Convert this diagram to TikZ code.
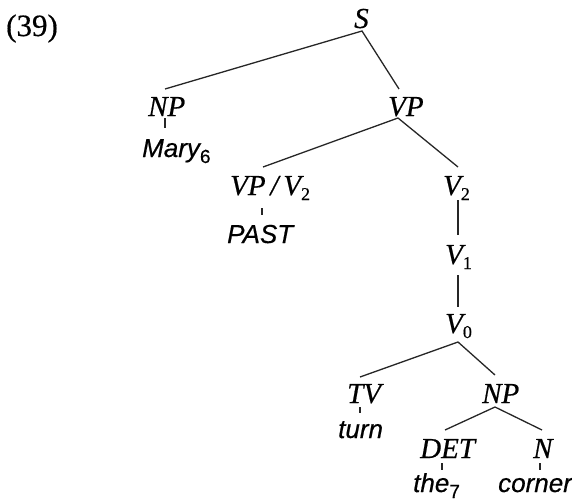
\documentclass[tikz,border=0pt]{standalone}
\usepackage{fontspec}
\setmainfont{Liberation Serif}
\newfontfamily\catfont[FakeBold=0.5]{Liberation Serif}
\newfontfamily\wordfont[FakeBold=0.5]{Liberation Sans}
\newcommand\catsub[1]{\raisebox{-5pt}{\fontsize{18}{18}\selectfont\upshape #1}}
\newcommand\wordsub[1]{\raisebox{-6pt}{\fontsize{19}{19}\selectfont\upshape #1}}
\tikzset{
  cat/.style={anchor=base west, inner sep=0pt, font=\fontsize{29}{29}\selectfont\catfont\itshape},
  word/.style={anchor=base west, inner sep=0pt, font=\fontsize{26}{26}\selectfont\wordfont\itshape},
  exlabel/.style={anchor=base west, inner sep=0pt, font=\fontsize{31}{31}\selectfont\catfont},
  edge/.style={line width=1.3pt, draw=black!85},
}
\begin{document}
\begin{tikzpicture}[x=1pt,y=-1pt]
\useasboundingbox (0,0) rectangle (572,501);
% labels
\node[exlabel] (ex) at (6,36) {(39)};
\node[cat] (S) at (354,28) {S};
\node[cat] (NP) at (148,116) {NP};
\node[word] (mary) at (142,157) {Mary\wordsub{6}};
\node[cat] (VP) at (388,116) {VP};
\node[cat] (VPV) at (230,195) {VP\,/\,V\catsub{2}};
\node[word] (past) at (227,243) {PAST};
\node[cat] (V2) at (443,195) {V\catsub{2}};
\node[cat] (V1) at (445,264) {V\catsub{1}};
\node[cat] (V0) at (445,333) {V\catsub{0}};
\node[cat] (TV) at (347,403) {TV};
\node[word] (turn) at (338,438) {turn};
\node[cat] (NP2) at (482,403) {NP};
\node[cat] (DET) at (420,458) {DET};
\node[word] (the) at (413,492) {the\wordsub{7}};
\node[cat] (N) at (533,458) {N};
\node[word] (corner) at (498,492) {corner};
% connection points
\coordinate (Sb) at (362,31);
\coordinate (NPt) at (165,89);
\coordinate (VPt) at (399,89);
\coordinate (NPb) at (165,118);
\coordinate (maryt) at (165,128);
\coordinate (VPb) at (398,118);
\coordinate (VPVt) at (263,167);
\coordinate (V2t) at (458,167);
\coordinate (VPVb) at (262,208);
\coordinate (pastt) at (262,215);
\coordinate (V2b) at (458,200);
\coordinate (V1t) at (458,235);
\coordinate (V1b) at (458,275);
\coordinate (V0t) at (458,307);
\coordinate (V0b) at (458,342);
\coordinate (TVt) at (360,377);
\coordinate (NP2t) at (495,375);
\coordinate (TVb) at (360,407);
\coordinate (turnt) at (360,413);
\coordinate (NP2b) at (495,407);
\coordinate (DETt) at (445,430);
\coordinate (Nt) at (542,430);
\coordinate (DETb) at (442,463);
\coordinate (thet) at (442,470);
\coordinate (Nb) at (540,463);
\coordinate (cornert) at (540,470);
% edges
\draw[edge] (NPt) -- (Sb) -- (VPt);
\draw[edge] (NPb) -- (maryt);
\draw[edge] (VPVt) -- (VPb) -- (V2t);
\draw[edge] (VPVb) -- (pastt);
\draw[edge] (V2b) -- (V1t);
\draw[edge] (V1b) -- (V0t);
\draw[edge] (TVt) -- (V0b) -- (NP2t);
\draw[edge] (TVb) -- (turnt);
\draw[edge] (DETt) -- (NP2b) -- (Nt);
\draw[edge] (DETb) -- (thet);
\draw[edge] (Nb) -- (cornert);
\end{tikzpicture}
\end{document}
